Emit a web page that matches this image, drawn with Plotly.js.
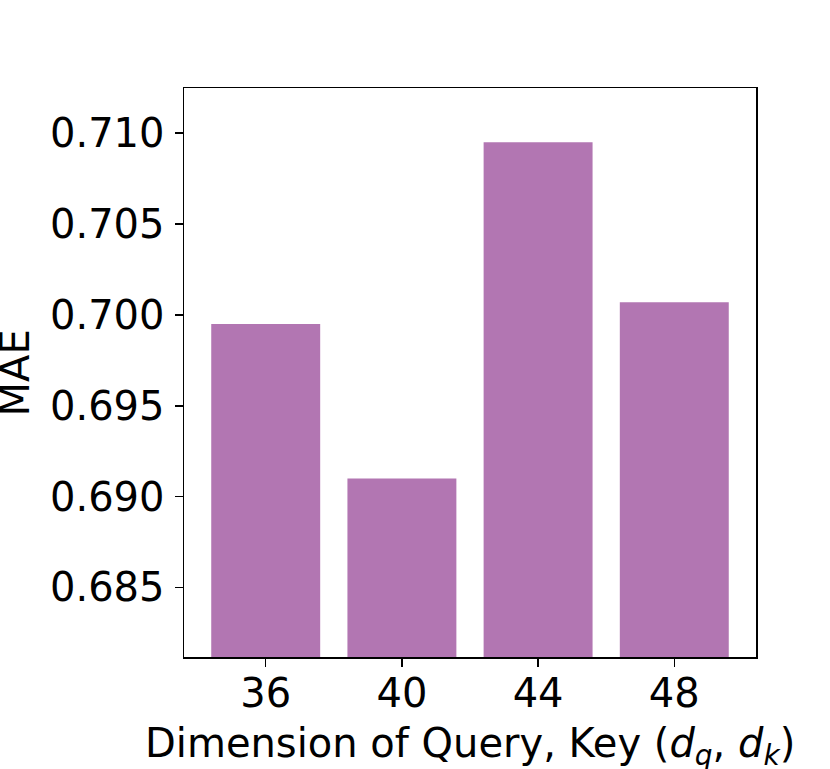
<!DOCTYPE html>
<html>
<head>
<meta charset="utf-8">
<script src="https://cdn.plot.ly/plotly-3.0.1.min.js"></script>
<style>
  html, body { margin: 0; padding: 0; background: #fff; }
  #chart { width: 830px; height: 769px; }
</style>
</head>
<body>
<div id="chart"></div>
<script>
  const dims = ['36', '40', '44', '48'];
  const mae = [0.6995, 0.6910, 0.7095, 0.7007];
  const yTicks = [0.685, 0.690, 0.695, 0.700, 0.705, 0.710];
  const xTitle = 'Dimension of Query, Key (<i>d</i><sub><i>q</i></sub>, <i>d</i><sub><i>k</i></sub>)';
  const yTitle = 'MAE';

  const trace = {
    x: dims,
    y: mae,
    type: 'bar',
    width: 0.8,
    marker: { color: '#b276b2' },
    hoverinfo: 'x+y',
  };

  const axisCommon = {
    showline: true,
    linecolor: '#000',
    linewidth: 1.5,
    mirror: true,
    ticks: 'outside',
    ticklen: 8,
    tickwidth: 1.5,
    tickcolor: '#000',
    showgrid: false,
    zeroline: false,
    automargin: false,
    tickfont: { size: 40, color: '#000' },
  };

  // axis titles placed as annotations so they sit where the reference has them
  const annotations = [
    {
      text: xTitle, xref: 'paper', yref: 'paper', x: 0.5, y: -0.157,
      xanchor: 'center', yanchor: 'middle', showarrow: false,
      font: { size: 40, color: '#000' },
    },
    {
      text: yTitle, xref: 'paper', yref: 'paper', x: -0.2955, y: 0.5,
      xanchor: 'center', yanchor: 'middle', textangle: -90, showarrow: false,
      font: { size: 40, color: '#000' },
    },
  ];

  const layout = {
    width: 830,
    height: 769,
    margin: { l: 184, r: 74, t: 88, b: 112 },
    paper_bgcolor: '#fff',
    plot_bgcolor: '#fff',
    font: { family: 'DejaVu Sans, sans-serif', color: '#000' },
    showlegend: false,
    xaxis: {
      ...axisCommon,
      type: 'category',
      range: [-0.6, 3.6],
      ticklabelstandoff: -8,
    },
    yaxis: {
      ...axisCommon,
      range: [0.68117, 0.71249],
      tickvals: yTicks,
      ticktext: yTicks.map((v) => v.toFixed(3)),
      ticklabelstandoff: 2,
    },
    annotations,
  };

  Plotly.newPlot('chart', [trace], layout, { displayModeBar: false, staticPlot: true });
</script>
</body>
</html>
